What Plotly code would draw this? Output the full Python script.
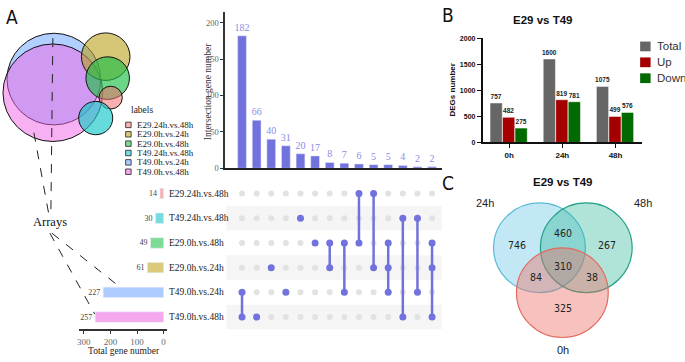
import plotly.graph_objects as go

W, H = 685, 362
def px(x): return x / W
def py(y): return 1 - y / H

SERIF = "Liberation Serif, serif"
SANS = "Liberation Sans, Arial, sans-serif"
NARROW = "Liberation Sans Narrow, DejaVu Sans Condensed, Liberation Sans, sans-serif"

# ---------------- data ----------------
set_names = ["E29.24h.vs.48h", "T49.24h.vs.48h", "E29.0h.vs.48h",
             "E29.0h.vs.24h", "T49.0h.vs.24h", "T49.0h.vs.48h"]
set_totals = [14, 30, 49, 61, 227, 257]
legend_order = ["E29.24h.vs.48h", "E29.0h.vs.24h", "E29.0h.vs.48h",
                "T49.24h.vs.48h", "T49.0h.vs.24h", "T49.0h.vs.48h"]

intersection_sizes = [182, 66, 40, 31, 20, 17, 8, 7, 6, 5, 5, 4, 2, 2]
intersection_members = [
    ["T49.0h.vs.24h", "T49.0h.vs.48h"],
    ["T49.0h.vs.48h"],
    ["E29.0h.vs.24h"],
    ["T49.0h.vs.24h"],
    ["T49.24h.vs.48h"],
    ["E29.0h.vs.48h"],
    ["E29.0h.vs.48h", "E29.0h.vs.24h"],
    ["E29.0h.vs.48h", "T49.0h.vs.24h"],
    ["E29.24h.vs.48h", "E29.0h.vs.48h"],
    ["E29.24h.vs.48h", "E29.0h.vs.24h"],
    ["E29.0h.vs.48h", "E29.0h.vs.24h", "T49.0h.vs.24h"],
    ["T49.24h.vs.48h", "T49.0h.vs.48h"],
    ["T49.24h.vs.48h", "T49.0h.vs.24h"],
    ["E29.0h.vs.48h", "E29.0h.vs.24h", "T49.0h.vs.48h"],
]
total_ticks = [300, 200, 100, 0]
inter_ticks = [0, 50, 100, 150, 200]

deg_timepoints = ["0h", "24h", "48h"]
deg_total = [757, 1600, 1075]
deg_up = [482, 819, 499]
deg_down = [275, 781, 576]
deg_ticks = [0, 500, 1000, 1500, 2000]

venn_labels = ["24h", "48h", "0h"]
venn_region_names = ["24h only", "24h&48h", "48h only", "all", "24h&0h", "48h&0h", "0h only"]
venn_region_values = [746, 460, 267, 310, 84, 38, 325]

# ---------------- styles ----------------
set_colors = {"E29.24h.vs.48h": "#f8b3b3", "T49.24h.vs.48h": "#79dcdc",
              "E29.0h.vs.48h": "#7edb95", "E29.0h.vs.24h": "#dbca7b",
              "T49.0h.vs.24h": "#adcbff", "T49.0h.vs.48h": "#f6a8ee"}
circle_fill = {"E29.24h.vs.48h": "rgba(240,110,110,0.55)", "T49.24h.vs.48h": "rgba(20,200,200,0.65)",
               "E29.0h.vs.48h": "rgba(30,190,70,0.65)", "E29.0h.vs.24h": "rgba(185,160,30,0.6)",
               "T49.0h.vs.24h": "rgba(100,160,255,0.5)", "T49.0h.vs.48h": "rgba(240,100,230,0.5)"}
circle_center = {"T49.0h.vs.24h": (52, 77), "T49.0h.vs.48h": (51, 91),
                 "E29.0h.vs.24h": (104, 54), "E29.0h.vs.48h": (106, 76),
                 "E29.24h.vs.48h": (109, 96), "T49.24h.vs.48h": (94, 117)}
circle_order = ["T49.0h.vs.24h", "T49.0h.vs.48h", "E29.0h.vs.24h", "E29.0h.vs.48h",
                "E29.24h.vs.48h", "T49.24h.vs.48h"]
BAR = "#7272de"
GRAY_DOT = "#e2e2e2"

row_of = {n: 5 - i for i, n in enumerate(set_names)}
ncols = len(intersection_sizes)
cols = list(range(1, ncols + 1))

fig = go.Figure()

# ---- intersection bars (xaxis / yaxis) ----
fig.add_trace(go.Bar(x=cols, y=intersection_sizes, width=0.6, marker_color=BAR,
                     text=[str(v) for v in intersection_sizes], textposition="outside",
                     constraintext="none",
                     textfont=dict(family=SERIF, size=10, color="#8c8ce8"),
                     cliponaxis=False, xaxis="x", yaxis="y", showlegend=False,
                     hoverinfo="skip"))

# ---- matrix (xaxis2 / yaxis2) ----
gx, gy = [], []
for c in cols:
    for n in set_names:
        gx.append(c); gy.append(row_of[n])
fig.add_trace(go.Scatter(x=gx, y=gy, mode="markers", marker=dict(color=GRAY_DOT, size=6),
                         xaxis="x2", yaxis="y2", showlegend=False, hoverinfo="skip"))
for c, members in zip(cols, intersection_members):
    ys = sorted(row_of[m] for m in members)
    if len(ys) > 1:
        fig.add_trace(go.Scatter(x=[c, c], y=[ys[0], ys[-1]], mode="lines",
                                 line=dict(color=BAR, width=2.5), xaxis="x2", yaxis="y2",
                                 showlegend=False, hoverinfo="skip"))
    fig.add_trace(go.Scatter(x=[c] * len(ys), y=ys, mode="markers",
                             marker=dict(color=BAR, size=7), xaxis="x2", yaxis="y2",
                             showlegend=False, hoverinfo="skip"))

# ---- total gene bars (xaxis3 / yaxis3) ----
fig.add_trace(go.Bar(x=set_totals, y=[row_of[n] for n in set_names], orientation="h",
                     width=0.42, marker_color=[set_colors[n] for n in set_names],
                     text=[str(v) for v in set_totals], textposition="outside",
                     constraintext="none",
                     textfont=dict(family=SERIF, size=8, color="#444"), cliponaxis=False,
                     xaxis="x3", yaxis="y3", showlegend=False, hoverinfo="skip"))

# ---- panel B grouped bars (xaxis4 / yaxis4) ----
for vals, col, off in [(deg_total, "#666666", -0.36), (deg_up, "#a50000", -0.125),
                       (deg_down, "#006a00", 0.11)]:
    fig.add_trace(go.Bar(x=deg_timepoints, y=vals, width=0.23, offset=off,
                         marker=dict(color=col, line=dict(color="white", width=0.5)),
                         text=[str(v) for v in vals], textposition="outside",
                         constraintext="none",
                         textfont=dict(family=SANS, size=6.5, color="#222", weight="bold"),
                         cliponaxis=False, xaxis="x4", yaxis="y4", showlegend=False,
                         hoverinfo="skip"))

shapes = []
ann = []

def A(x, y, text, family, size, color="#222", xanchor="center", yanchor="middle",
      xref="paper", yref="paper", **kw):
    ann.append(dict(x=x, y=y, xref=xref, yref=yref, text=text, showarrow=False,
                    xanchor=xanchor, yanchor=yanchor,
                    font=dict(family=family, size=size, color=color), **kw))

# matrix row bands
for n in ["T49.24h.vs.48h", "E29.0h.vs.24h", "T49.0h.vs.48h"]:
    r = row_of[n]
    shapes.append(dict(type="rect", xref="paper", yref="y2", x0=px(225), x1=px(441),
                       y0=r - 0.5, y1=r + 0.5, fillcolor="#f5f5f5", line_width=0,
                       layer="below"))
# row labels
for n in set_names:
    A(px(165), row_of[n], n, SERIF, 9.5, xanchor="left", yref="y2")

# euler circles (radius from set size)
rmax = 50
big = max(set_totals)
for n in circle_order:
    cx, cy = circle_center[n]
    r = rmax * (set_totals[set_names.index(n)] / big) ** 0.5
    shapes.append(dict(type="circle", xref="paper", yref="paper",
                       x0=px(cx - r), x1=px(cx + r), y0=py(cy + r), y1=py(cy - r),
                       fillcolor=circle_fill[n], line=dict(color="#111", width=1)))

# dashed connector lines
for (x0, y0, x1, y1) in [(51, 35, 49, 216), (32, 132, 47, 216),
                         (50, 235, 118, 290), (48, 235, 93, 318)]:
    shapes.append(dict(type="line", xref="paper", yref="paper", x0=px(x0), y0=py(y0),
                       x1=px(x1), y1=py(y1), line=dict(color="#222", width=1, dash="dash")))
A(px(48), py(224), "Arrays", SERIF, 12.5, "#111")

# legend for panel A
A(px(127), py(109), "labels", SERIF, 9.5, xanchor="left")
for i, n in enumerate(legend_order):
    yy = 124 + i * 9.6
    shapes.append(dict(type="rect", xref="paper", yref="paper", x0=px(124), x1=px(129.5),
                       y0=py(yy + 2.8), y1=py(yy - 2.8), fillcolor=set_colors[n],
                       line=dict(color="#222", width=0.8)))
    A(px(133), py(yy), n, SERIF, 9, xanchor="left")

# axis titles for A
A(px(206), py(90), "Intersection gene number", SERIF, 9.5, "#333", textangle=-90)
A(px(122), py(356), "Total gene number", SERIF, 9.5)

# panel letters
for t, x, y in [("A", 10, 13), ("B", 447, 11), ("C", 447, 184)]:
    A(px(x), py(y), t, NARROW, 19, "#111")

# panel B title / legend / axis title
A(px(542), py(16), "<b>E29 vs T49</b>", SANS, 11.5, "#111")
A(px(452), py(88), "<b>DEGs number</b>", SANS, 8, "#111", textangle=-90)
for i, (lab, col) in enumerate([("Total", "#666666"), ("Up", "#a50000"), ("Down", "#006a00")]):
    yy = 43.5 + i * 16.3
    shapes.append(dict(type="rect", xref="paper", yref="paper", x0=px(640), x1=px(650.5),
                       y0=py(yy + 5), y1=py(yy - 5), fillcolor=col, line_width=0))
    A(px(655), py(yy), lab, SANS, 11.5, "#333", xanchor="left")

# panel C venn
A(px(562), py(183), "<b>E29 vs T49</b>", SANS, 11.5, "#111")
venn_circles = [((539, 250), "rgba(110,200,230,0.42)", "#5cbcd8"),
                ((586, 250), "rgba(40,180,150,0.36)", "#25a088"),
                ((562, 296), "rgba(235,110,100,0.42)", "#e46a5e")]
vr = 46
for (cx, cy), fill, line in venn_circles:
    shapes.append(dict(type="circle", xref="paper", yref="paper",
                       x0=px(cx - vr), x1=px(cx + vr), y0=py(cy + vr), y1=py(cy - vr),
                       fillcolor=fill, line=dict(color=line, width=1.2)))
for lab, (x, y) in zip(venn_labels, [(484, 204), (643, 204), (563, 355)]):
    A(px(x), py(y), lab, SANS, 11)
region_pos = [(517, 247), (563, 235), (607, 247), (563, 269), (536, 280), (592, 280), (563, 312)]
for v, (x, y) in zip(venn_region_values, region_pos):
    A(px(x), py(y), str(v), NARROW, 10.5)

hidden = dict(visible=False, showgrid=False, zeroline=False)
fig.update_layout(
    width=W, height=H, margin=dict(l=0, r=0, t=0, b=0),
    paper_bgcolor="white", plot_bgcolor="white", barmode="overlay",
    xaxis=dict(domain=[px(224), px(441)], range=[-0.14, 14.66], showgrid=False, zeroline=False,
               showline=True, linecolor="#222", linewidth=2, showticklabels=False, ticks=""),
    yaxis=dict(domain=[py(168.5), py(8)], range=[0, 215], showgrid=False, zeroline=False,
               showline=True, linecolor="#333", linewidth=2, tickvals=inter_ticks,
               ticks="outside", ticklen=3, tickcolor="#333",
               tickfont=dict(family=SERIF, size=8.5, color="#666")),
    xaxis2=dict(domain=[px(224), px(441)], range=[-0.14, 14.66], **hidden),
    yaxis2=dict(domain=[py(333.7), py(181.7)], range=[-0.5, 5.5], **hidden),
    xaxis3=dict(domain=[px(77), px(165)], range=[319, -11], showgrid=False, zeroline=False,
                showline=True, linecolor="#333", linewidth=1.5, tickvals=total_ticks,
                ticks="outside", ticklen=3, tickcolor="#333", anchor="y3",
                tickfont=dict(family=SERIF, size=9, color="#666")),
    yaxis3=dict(domain=[py(333.7), py(181.7)], range=[-0.5, 5.5], anchor="x3", **hidden),
    xaxis4=dict(domain=[px(482), px(642)], range=[-0.5, 2.5], anchor="y4", showgrid=False,
                zeroline=False, showline=True, linecolor="#111", linewidth=1.5, ticks="outside",
                ticklen=4, tickcolor="#111",
                tickfont=dict(family=SANS, size=8, color="#111", weight="bold")),
    yaxis4=dict(domain=[py(142), py(35)], range=[0, 2000], anchor="x4", showgrid=False,
                zeroline=False, showline=True, linecolor="#111", linewidth=1.5,
                tickvals=deg_ticks, ticks="outside", ticklen=4, tickcolor="#111",
                tickfont=dict(family=SANS, size=7, color="#111", weight="bold")),
    shapes=shapes, annotations=ann,
)

fig.write_html("out.html", config={"displayModeBar": False},
               post_script="document.body.style.margin='0';")
